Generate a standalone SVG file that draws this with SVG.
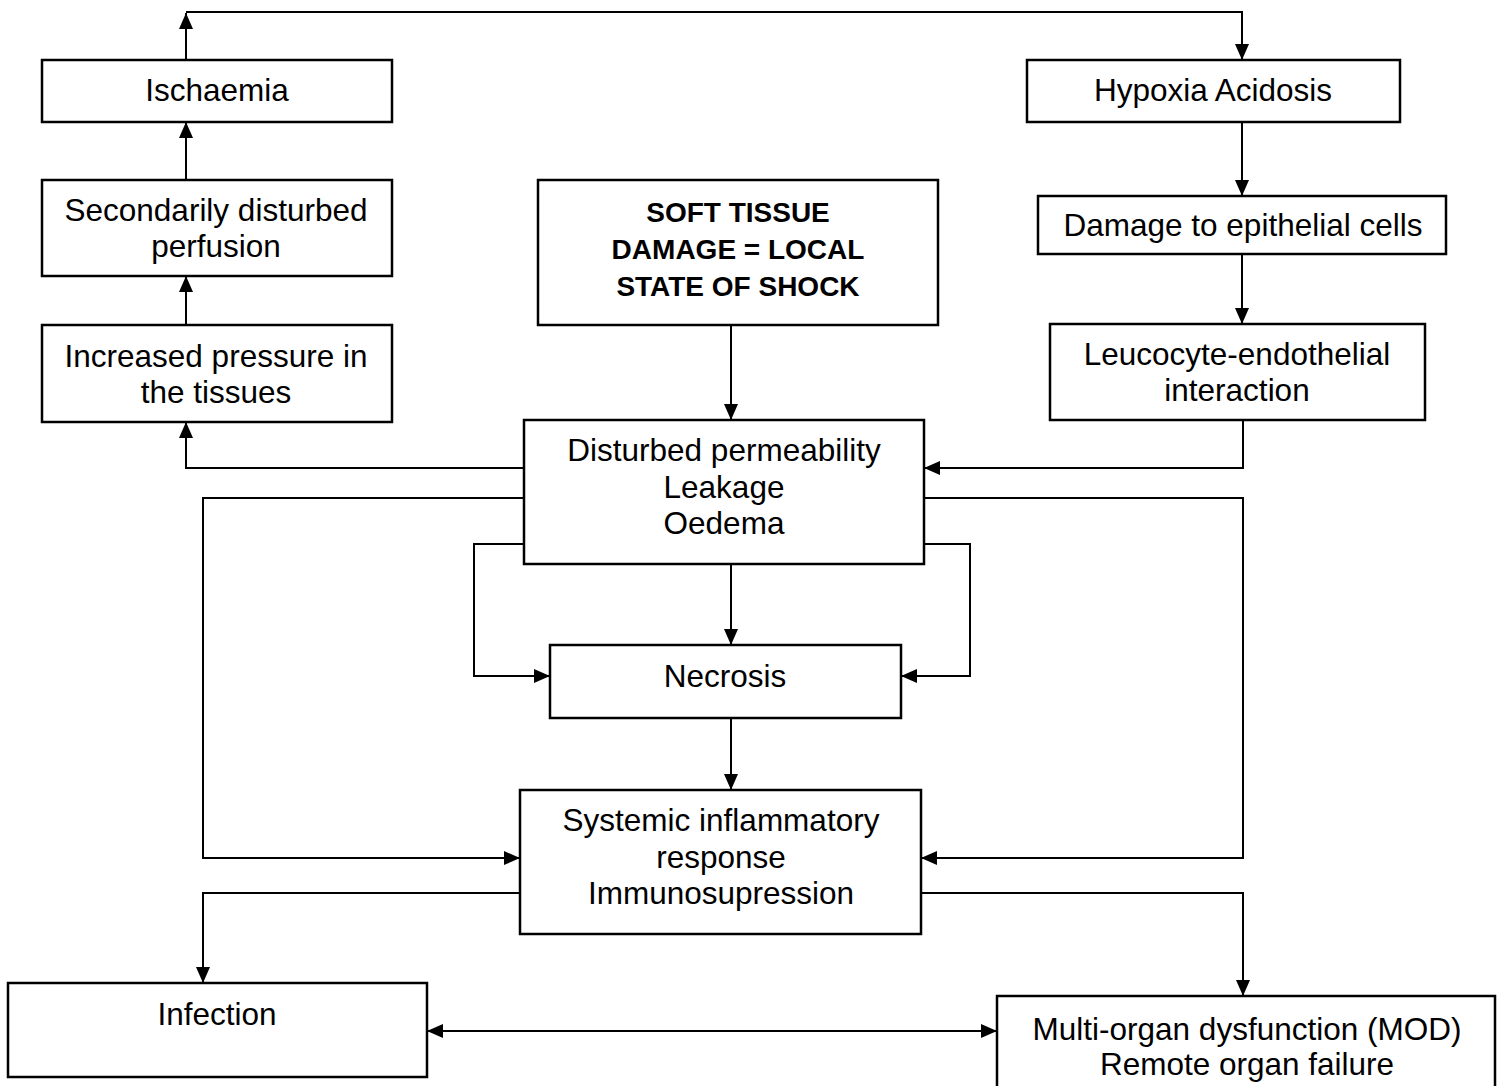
<svg xmlns="http://www.w3.org/2000/svg" width="1504" height="1086" viewBox="0 0 1504 1086">
<defs>
<marker id="ah" markerUnits="userSpaceOnUse" markerWidth="16" markerHeight="14" refX="16" refY="7" orient="auto-start-reverse">
<path d="M0,0 L16,7 L0,14 z" fill="#000"/>
</marker>
<style>
rect{fill:#fff;stroke:#000;stroke-width:2.5}
text{font-family:"Liberation Sans",Arial,sans-serif;font-size:31.5px;fill:#000;text-anchor:middle}
.b{font-weight:bold;font-size:28px}
#connectors path{fill:none;stroke:#000;stroke-width:2}
.a{marker-end:url(#ah)}
</style>
</defs>
<rect x="0" y="0" width="1504" height="1086" style="stroke:none;fill:#fff"/>
<g id="connectors">
<path class="a" d="M186,60 V13"/>
<path class="a" d="M186,12 H1242 V60"/>
<path class="a" d="M186,180 V122"/>
<path class="a" d="M186,325 V276"/>
<path class="a" d="M1242,122 V196"/>
<path class="a" d="M1242,254 V324"/>
<path class="a" d="M731,325 V420"/>
<path class="a" d="M524,468 H186 V422"/>
<path class="a" d="M1243,420 V468 H924"/>
<path class="a" d="M524,498 H203 V858 H520"/>
<path class="a" d="M924,498 H1243 V858 H921"/>
<path class="a" d="M524,544 H474 V676 H550"/>
<path class="a" d="M920,544 H970 V676 H901"/>
<path class="a" d="M731,564 V645"/>
<path class="a" d="M731,718 V790"/>
<path class="a" d="M520,893 H203 V983"/>
<path class="a" d="M921,893 H1243 V996"/>
<path class="a" style="marker-start:url(#ah)" d="M427,1031 H997"/>
</g>
<g id="ischaemia"><rect x="42" y="60" width="350" height="62"/><text x="217" y="101">Ischaemia</text></g>
<g id="hypoxia"><rect x="1027" y="60" width="373" height="62"/><text x="1213" y="101">Hypoxia Acidosis</text></g>
<g id="secondarily"><rect x="42" y="180" width="350" height="96"/><text x="216" y="221">Secondarily disturbed</text><text x="216" y="257">perfusion</text></g>
<g id="softtissue"><rect x="538" y="180" width="400" height="145"/><text class="b" x="738" y="222">SOFT TISSUE</text><text class="b" x="738" y="259">DAMAGE = LOCAL</text><text class="b" x="738" y="296">STATE OF SHOCK</text></g>
<g id="damage"><rect x="1038" y="196" width="408" height="58"/><text x="1243" y="236">Damage to epithelial cells</text></g>
<g id="increased"><rect x="42" y="325" width="350" height="97"/><text x="216" y="367">Increased pressure in</text><text x="216" y="403">the tissues</text></g>
<g id="leucocyte"><rect x="1050" y="324" width="375" height="96"/><text x="1237" y="365">Leucocyte-endothelial</text><text x="1237" y="401">interaction</text></g>
<g id="disturbed"><rect x="524" y="420" width="400" height="144"/><text x="724" y="461">Disturbed permeability</text><text x="724" y="498">Leakage</text><text x="724" y="534">Oedema</text></g>
<g id="necrosis"><rect x="550" y="645" width="351" height="73"/><text x="725" y="687">Necrosis</text></g>
<g id="systemic"><rect x="520" y="790" width="401" height="144"/><text x="721" y="831">Systemic inflammatory</text><text x="721" y="868">response</text><text x="721" y="904">Immunosupression</text></g>
<g id="infection"><rect x="8" y="983" width="419" height="94"/><text x="217" y="1025">Infection</text></g>
<g id="mod"><rect x="997" y="996" width="498" height="100"/><text x="1247" y="1040">Multi-organ dysfunction (MOD)</text><text x="1247" y="1075">Remote organ failure</text></g>
</svg>
